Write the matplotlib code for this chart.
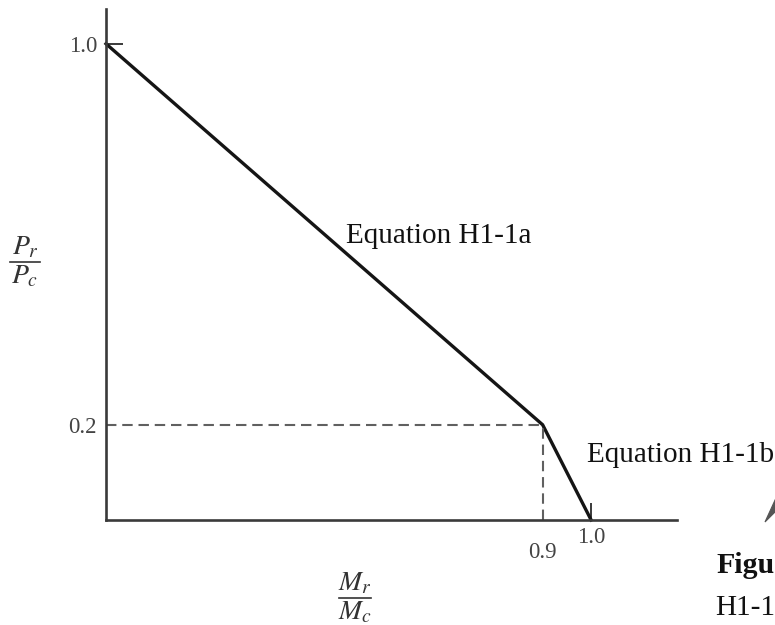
import numpy as np
import matplotlib
matplotlib.use("Agg")
import matplotlib.pyplot as plt
from matplotlib.patches import Polygon
from matplotlib.lines import Line2D

plt.rcParams['font.family'] = ['Liberation Serif', 'DejaVu Serif']
plt.rcParams['mathtext.fontset'] = 'stix'

# interaction curve: Pr/Pc vs Mr/Mc
m_ratio = [0.0, 0.9, 1.0]
p_ratio = [1.0, 0.2, 0.0]
m_break = 0.9
p_break = 0.2

W, H = 775, 625
fig = plt.figure(figsize=(W / 100, H / 100), dpi=100)
ax = fig.add_axes([106 / W, (H - 520) / H, 571 / W, 511 / H])

ax.set_xlim(0, 1.177)
ax.set_ylim(0, 1.073)

axis_col = '#3a3a3a'
for s in ['top', 'right']:
    ax.spines[s].set_visible(False)
for s in ['left', 'bottom']:
    ax.spines[s].set_color(axis_col)
    ax.spines[s].set_linewidth(1.9)

# the curve
ax.plot(m_ratio, p_ratio, color='#151515', lw=2.4, solid_joinstyle='miter',
        clip_on=False)

# dashed guides to the break point
dash = (0, (5.0, 2.8))
ax.plot([0, m_break], [p_break, p_break], color='#606060', lw=1.5,
        linestyle=dash)
ax.plot([m_break, m_break], [0, p_break], color='#606060', lw=1.5,
        linestyle=dash)

# ticks: majors drawn inward, minors only carry labels
ax.set_xticks([1.0])
ax.set_xticklabels(['1.0'])
ax.set_xticks([0.9], minor=True)
ax.set_xticklabels(['0.9'], minor=True)
ax.set_yticks([1.0])
ax.set_yticklabels(['1.0'])
ax.set_yticks([0.2], minor=True)
ax.set_yticklabels(['0.2'], minor=True)

ax.tick_params(which='major', direction='in', length=12, width=1.4,
               color=axis_col, labelsize=16.5, labelcolor='#444444')
ax.tick_params(axis='x', which='major', pad=5)
ax.tick_params(axis='y', which='major', pad=6)
ax.tick_params(which='minor', length=0, labelsize=16.5, labelcolor='#444444')
ax.tick_params(axis='x', which='minor', pad=16)
ax.tick_params(axis='y', which='minor', pad=7)


def stacked_fraction(xc, ybar, num, den, half_w, size=20, col='#333333'):
    # numerator / bar / denominator placed around a bar at pixel row ybar
    fig.text(xc / W, (H - ybar + 2) / H, num, fontsize=size, ha='center',
             va='bottom', color=col)
    fig.text(xc / W, (H - ybar - 2) / H, den, fontsize=size, ha='center',
             va='top', color=col)
    fig.lines.append(Line2D([(xc - half_w) / W, (xc + half_w) / W],
                            [(H - ybar) / H, (H - ybar) / H],
                            transform=fig.transFigure, color=col, lw=1.2))


# axis titles as fractions
stacked_fraction(25, 262, r'$P_r$', r'$P_c$', 15)
stacked_fraction(355, 598, r'$M_r$', r'$M_c$', 16)

# equation labels
ax.text(0.495, 0.582, 'Equation H1-1a', fontsize=21, ha='left',
        va='baseline', color='#111111')
ax.text(0.992, 0.122, 'Equation H1-1b', fontsize=21, ha='left',
        va='baseline', color='#111111', clip_on=False)

# caption fragment at the right edge
fig.text(716 / W, (H - 573) / H, 'Figu', fontsize=21.5, fontweight='bold',
         ha='left', va='baseline', color='#111111')
fig.text(715 / W, (H - 615) / H, 'H1-1', fontsize=21, ha='left',
         va='baseline', color='#111111')

# grey wedge near the caption
wedge = Polygon([(765 / W, (H - 522) / H), (776 / W, (H - 498) / H),
                 (776 / W, (H - 511) / H)], closed=True,
                transform=fig.transFigure, facecolor='#555555',
                edgecolor='#555555', lw=0.8)
fig.patches.append(wedge)

fig.savefig('out.png', dpi=100)
